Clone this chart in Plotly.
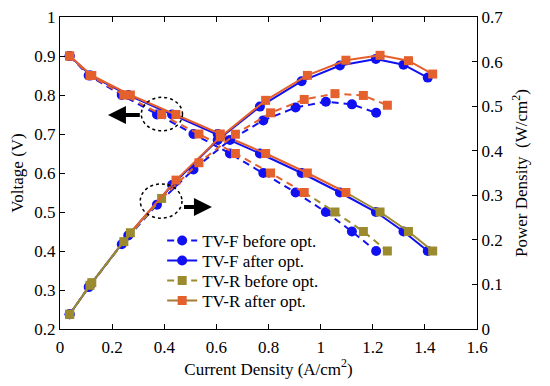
import plotly.graph_objects as go

# ---------------- data ----------------
voltage = [0.9, 0.85, 0.8, 0.75, 0.7, 0.65, 0.6, 0.55, 0.5, 0.45, 0.4]

tvf_before_i = [0.037, 0.110, 0.237, 0.372, 0.512, 0.652, 0.780, 0.904, 1.020, 1.120, 1.213]
tvf_before_p = [0.033, 0.094, 0.190, 0.279, 0.358, 0.424, 0.468, 0.497, 0.510, 0.504, 0.485]

tvr_before_i = [0.037, 0.115, 0.245, 0.390, 0.533, 0.673, 0.808, 0.937, 1.055, 1.164, 1.256]
tvr_before_p = [0.033, 0.098, 0.196, 0.293, 0.373, 0.437, 0.485, 0.515, 0.528, 0.524, 0.502]

tvf_after_i = [0.037, 0.118, 0.262, 0.430, 0.605, 0.767, 0.927, 1.074, 1.212, 1.318, 1.411]
tvf_after_p = [0.033, 0.100, 0.210, 0.323, 0.424, 0.499, 0.556, 0.591, 0.606, 0.593, 0.564]

tvr_after_i = [0.037, 0.122, 0.270, 0.445, 0.615, 0.789, 0.949, 1.097, 1.228, 1.337, 1.430]
tvr_after_p = [0.033, 0.104, 0.216, 0.334, 0.431, 0.513, 0.569, 0.603, 0.614, 0.602, 0.572]

series_names = ["TV-F before opt.", "TV-F after opt.", "TV-R before opt.", "TV-R after opt."]
x_ticks = [0, 0.2, 0.4, 0.6, 0.8, 1.0, 1.2, 1.4, 1.6]
x_tick_text = ["0", "0.2", "0.4", "0.6", "0.8", "1", "1.2", "1.4", "1.6"]
v_ticks = [0.2, 0.3, 0.4, 0.5, 0.6, 0.7, 0.8, 0.9, 1.0]
v_tick_text = ["0.2", "0.3", "0.4", "0.5", "0.6", "0.7", "0.8", "0.9", "1"]
p_ticks = [0, 0.1, 0.2, 0.3, 0.4, 0.5, 0.6, 0.7]
p_tick_text = ["0", "0.1", "0.2", "0.3", "0.4", "0.5", "0.6", "0.7"]

# ---------------- style ----------------
BLUE = "#1010F0"
ORANGE = "#E4602C"
OLIVE = "#9C8A2E"
BROWN = "#A67A32"
FONT = "Liberation Serif"
DASH = "7px,5px"

fig = go.Figure()


def add_series(x, y, yaxis, dash, symbol, size, seg_colors, marker_colors):
    for s, e, c in seg_colors:
        fig.add_trace(go.Scatter(
            x=x[s:e + 1], y=y[s:e + 1], yaxis=yaxis, mode="lines",
            line=dict(color=c, width=2, dash=dash),
            showlegend=False, hoverinfo="skip"))
    fig.add_trace(go.Scatter(
        x=x, y=y, yaxis=yaxis, mode="markers",
        marker=dict(symbol=symbol, size=size, color=marker_colors, line=dict(width=0)),
        showlegend=False))


n = len(voltage)
# TV-F before (blue dashed circles)
add_series(tvf_before_i, voltage, "y", DASH, "circle", 10, [(0, n - 1, BLUE)], [BLUE] * n)
add_series(tvf_before_i, tvf_before_p, "y2", DASH, "circle", 10, [(0, n - 1, BLUE)], [BLUE] * n)
# TV-F after (blue solid circles)
add_series(tvf_after_i, voltage, "y", "solid", "circle", 10, [(0, n - 1, BLUE)], [BLUE] * n)
add_series(tvf_after_i, tvf_after_p, "y2", "solid", "circle", 10, [(0, n - 1, BLUE)], [BLUE] * n)
# TV-R before (dashed squares, orange upper part / olive lower part)
add_series(tvr_before_i, voltage, "y", DASH, "square", 9,
           [(0, 7, ORANGE), (7, n - 1, OLIVE)], [ORANGE] * 8 + [OLIVE] * (n - 8))
add_series(tvr_before_i, tvr_before_p, "y2", DASH, "square", 9,
           [(0, 3, OLIVE), (3, n - 1, ORANGE)], [OLIVE] * 4 + [ORANGE] * (n - 4))
# TV-R after (solid squares)
add_series(tvr_after_i, voltage, "y", "solid", "square", 9,
           [(0, 7, ORANGE), (7, n - 1, OLIVE)], [ORANGE] * 8 + [OLIVE] * (n - 8))
add_series(tvr_after_i, tvr_after_p, "y2", "solid", "square", 9,
           [(0, 2, OLIVE), (2, n - 1, ORANGE)], [OLIVE] * 3 + [ORANGE] * (n - 3))

# legend-only entries, one small legend each so the row spacing can match
legend_styles = [
    (BLUE, BLUE, DASH, "circle", 10),
    (BLUE, BLUE, "solid", "circle", 10),
    (OLIVE, OLIVE, DASH, "square", 9),
    (BROWN, ORANGE, "solid", "square", 9),
]
legend_ids = ["legend", "legend2", "legend3", "legend4"]
legend_y = [0.282, 0.218, 0.154, 0.090]
for name, lid, (lc, mc, d, sym, sz) in zip(series_names, legend_ids, legend_styles):
    fig.add_trace(go.Scatter(
        x=[None], y=[None], mode="lines+markers", name=name, legend=lid,
        line=dict(color=lc, width=2, dash=d),
        marker=dict(symbol=sym, size=sz, color=mc)))

# dotted ellipses and arrows
fig.add_shape(type="circle", xref="x", yref="y", x0=0.312, x1=0.470, y0=0.708, y1=0.794,
              line=dict(color="black", width=1.5, dash="dot"))
fig.add_shape(type="circle", xref="x", yref="y", x0=0.308, x1=0.468, y0=0.484, y1=0.572,
              line=dict(color="black", width=1.5, dash="dot"))
fig.add_annotation(x=0.184, y=0.749, ax=0.312, ay=0.749, xref="x", yref="y", axref="x", ayref="y",
                   text="", showarrow=True, arrowhead=2, arrowsize=0.9, arrowwidth=4, arrowcolor="black")
fig.add_annotation(x=0.583, y=0.513, ax=0.470, ay=0.513, xref="x", yref="y", axref="x", ayref="y",
                   text="", showarrow=True, arrowhead=2, arrowsize=0.9, arrowwidth=4, arrowcolor="black")

axis_common = dict(showline=True, linecolor="black", linewidth=1.2, ticks="inside", ticklen=5,
                   tickcolor="black", showgrid=False, zeroline=False, ticklabeloverflow="allow",
                   tickfont=dict(family=FONT, size=17, color="black"))

legend_common = dict(x=0.245, xanchor="left", yanchor="middle", bgcolor="rgba(0,0,0,0)",
                     font=dict(family=FONT, size=17, color="black"), itemwidth=30,
                     borderwidth=0)

# page body has an 8px margin, so the figure is sized/offset to compensate
fig.update_layout(
    width=542, height=378,
    margin=dict(l=52, r=73, t=9, b=57, autoexpand=False),
    plot_bgcolor="white", paper_bgcolor="white",
    font=dict(family=FONT, size=17, color="black"),
    xaxis=dict(range=[0, 1.6], tickvals=x_ticks, ticktext=x_tick_text, mirror="ticks",
               ticklabelstandoff=2,
               title=dict(text="Current Density (A/cm<sup>2</sup>)", font=dict(family=FONT, size=17), standoff=3),
               **axis_common),
    yaxis=dict(range=[0.2, 1.0], tickvals=v_ticks, ticktext=v_tick_text,
               title=dict(text="Voltage (V)", font=dict(family=FONT, size=17), standoff=6),
               **axis_common),
    yaxis2=dict(range=[0, 0.7], tickvals=p_ticks, ticktext=p_tick_text, overlaying="y", side="right",
                title=dict(text="Power Density  (W/cm<sup>2</sup>)", font=dict(family=FONT, size=17), standoff=12),
                **axis_common),
    legend=dict(y=legend_y[0], **legend_common),
    legend2=dict(y=legend_y[1], **legend_common),
    legend3=dict(y=legend_y[2], **legend_common),
    legend4=dict(y=legend_y[3], **legend_common),
    showlegend=True,
)

fig.write_html("out.html")
